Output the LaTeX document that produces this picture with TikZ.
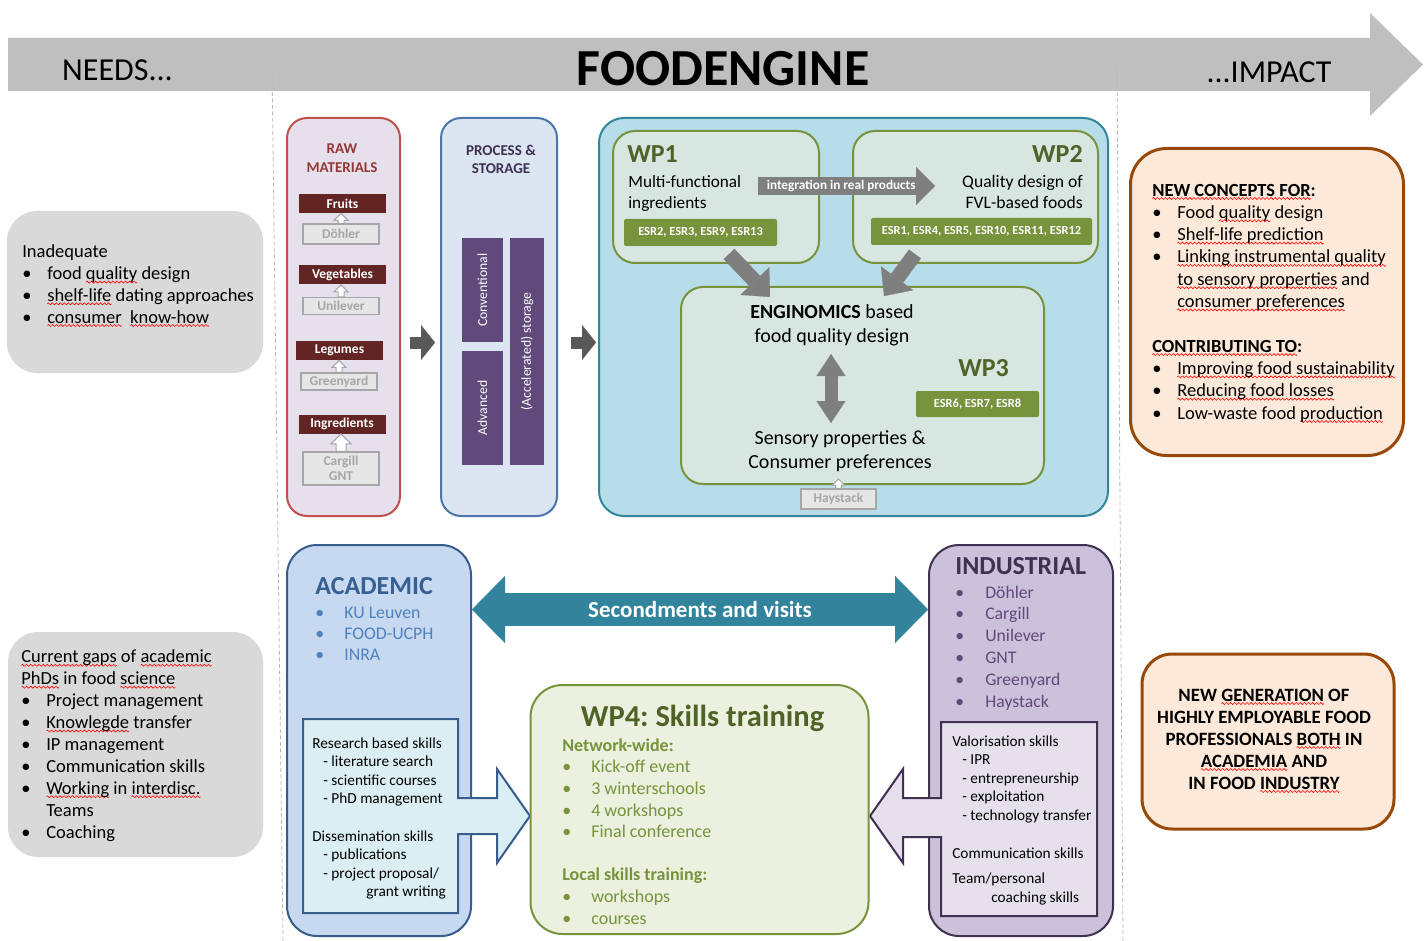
\documentclass[tikz,border=0pt]{standalone}
\usepackage{fontspec}
\setmainfont{Carlito}
\usetikzlibrary{arrows.meta,calc,positioning}

\definecolor{bannergray}{HTML}{BFBFBF}
\definecolor{needgray}{HTML}{D9D9D9}
\definecolor{rawfill}{HTML}{E6E0EC}
\definecolor{rawline}{HTML}{C0504D}
\definecolor{rawtitle}{HTML}{953735}
\definecolor{rawdark}{HTML}{632523}
\definecolor{supfill}{HTML}{E6E6E6}
\definecolor{supline}{HTML}{A6A6A6}
\definecolor{procfill}{HTML}{DCE6F2}
\definecolor{procline}{HTML}{4A76AC}
\definecolor{proctitle}{HTML}{3F3151}
\definecolor{barpurple}{HTML}{604A7B}
\definecolor{wpfill}{HTML}{B7DEE8}
\definecolor{wpline}{HTML}{31859C}
\definecolor{wpsubfill}{HTML}{D7E6E1}
\definecolor{wpgreen}{HTML}{77933C}
\definecolor{wptitle}{HTML}{4F6228}
\definecolor{arrgray}{HTML}{7F7F7F}
\definecolor{arrdark}{HTML}{595959}
\definecolor{impfill}{HTML}{FDE9D9}
\definecolor{impline}{HTML}{984807}
\definecolor{acadfill}{HTML}{C6D9F1}
\definecolor{acadline}{HTML}{385D8A}
\definecolor{acadtitle}{HTML}{376092}
\definecolor{acadlist}{HTML}{4F81BD}
\definecolor{acadcallfill}{HTML}{DBEEF4}
\definecolor{indufill}{HTML}{CCC1DA}
\definecolor{induline}{HTML}{3F3151}
\definecolor{indulist}{HTML}{5F497A}
\definecolor{inducallfill}{HTML}{E5E0EC}
\definecolor{wpfourfill}{HTML}{EBF1DE}
\definecolor{secteal}{HTML}{31849B}

\frenchspacing
\newcommand\fs[2]{\fontsize{#1}{#2}\selectfont}
% red spell-check waves
\newsavebox\wavebox
\newsavebox\sqbox
\newcommand\makewave{\sbox\wavebox{\begin{pgfpicture}%
  \pgfpathrectangle{\pgfpoint{0pt}{-1pt}}{\pgfpoint{4pt}{2pt}}\pgfusepath{use as bounding box}%
  \pgfsetstrokecolor{red}\pgfsetlinewidth{0.6pt}%
  \pgfpathmoveto{\pgfpoint{0pt}{0pt}}\pgfpathsine{\pgfpoint{1pt}{1pt}}\pgfpathcosine{\pgfpoint{1pt}{-1pt}}%
  \pgfpathsine{\pgfpoint{1pt}{-1pt}}\pgfpathcosine{\pgfpoint{1pt}{1pt}}\pgfusepath{stroke}%
  \end{pgfpicture}}}
\newcommand\sq[1]{\sbox\sqbox{#1}\rlap{\raisebox{-3.5pt}[0pt][0pt]{\hbox to \wd\sqbox{\xleaders\copy\wavebox\hfill}}}\usebox\sqbox}
\newcommand\bl[1]{\makebox[#1][l]{\textbullet}}
% small outlined supplier arrows: from, to, shaft half width, head half width
\newcommand\feedarrow[4]{%
  \draw[feed] let \p1=#1, \p2=#2 in
    (\x1-#3pt,\y1) -- (\x1-#3pt,\y2-#4pt) -- (\x1-#4pt,\y2-#4pt) -- (\x1,\y2)
    -- (\x1+#4pt,\y2-#4pt) -- (\x1+#3pt,\y2-#4pt) -- (\x1+#3pt,\y1) -- cycle;}

\begin{document}
\begin{tikzpicture}[x=1pt,y=-1pt,
  txt/.style={inner sep=0pt},
  needbox/.style={fill=needgray, rounded corners=30pt, inner sep=0pt},
  rawbox/.style={fill=rawfill, draw=rawline, line width=2pt, rounded corners=20pt},
  procbox/.style={fill=procfill, draw=procline, line width=2pt, rounded corners=20pt},
  wpbox/.style={fill=wpfill, draw=wpline, line width=2pt, rounded corners=25pt},
  wpsub/.style={fill=wpsubfill, draw=wpgreen, line width=2pt, rounded corners=22pt},
  impactbox/.style={fill=impfill, draw=impline, line width=3pt, rounded corners=36pt},
  acadbox/.style={fill=acadfill, draw=acadline, line width=2pt, rounded corners=30pt},
  indubox/.style={fill=indufill, draw=induline, line width=2pt, rounded corners=30pt},
  wpfourbox/.style={fill=wpfourfill, draw=wpgreen, line width=2pt, rounded corners=32pt},
  rawcat/.style={fill=rawdark, text=white, font=\bfseries\fs{13.5}{15}, minimum width=87pt, minimum height=19pt, inner sep=0pt},
  supplier/.style={fill=supfill, draw=supline, line width=1.3pt, text=supline, font=\bfseries\fs{13.5}{15}, minimum width=76pt, inner sep=0pt, align=center},
  feed/.style={fill=white, draw=supline, line width=1pt, line join=miter},
  storebar/.style={fill=barpurple, text=white, rotate=90, inner sep=0pt, font=\fs{13.7}{15}},
  esr/.style={fill=wpgreen, text=white, font=\bfseries\fs{12.4}{14}, rounded corners=2pt, inner sep=0pt},
  wplabel/.style={txt, font=\bfseries\fs{26}{30}, text=wptitle},
  blockarr/.style={draw=arrdark, line width=12pt, -{Triangle[width=35pt,length=14pt,line width=0.1pt]}},
  grayarr/.style={draw=arrgray, line width=15pt, -{Triangle[width=40pt,length=22pt,line width=0.1pt]}},
  intarr/.style={draw=arrgray, line width=18pt, -{Triangle[width=38pt,length=19pt,line width=0.1pt]}},
  dblarr/.style={draw=arrgray, line width=13pt, {Triangle[width=29pt,length=22pt,line width=0.1pt]}-{Triangle[width=29pt,length=22pt,line width=0.1pt]}},
  secarr/.style={draw=secteal, line width=33pt, {Triangle[width=67pt,length=33pt,line width=0.1pt]}-{Triangle[width=67pt,length=33pt,line width=0.1pt]}},
  acadcall/.style={fill=acadcallfill, draw=acadline, line width=2pt},
  inducall/.style={fill=inducallfill, draw=induline, line width=2pt},
  sep/.style={draw=gray!55, line width=0.8pt, dash pattern=on 4pt off 2.5pt}]
\makewave
\useasboundingbox (0,0) rectangle (1426,940);

% banner
\fill[bannergray] (8,37) -- (1370,37) -- (1370,12) -- (1423,63.5) -- (1370,115) -- (1370,90) -- (8,90) -- cycle;
\node[txt, anchor=base, font=\fs{32}{38}] (needs) at (117.5,80) {NEEDS...};
\node[txt, anchor=base, font=\bfseries\fs{52}{60}] (title) at (723,85) {FOODENGINE};
\node[txt, anchor=base, font=\fs{32}{38}] (impact) at (1269,82) {...IMPACT};
\draw[sep] (272,65) -- (283,940);
\draw[sep] (1117,65) -- (1123,940);

% needs (multi-line texts are placed by the baseline of their last line)
\node[needbox, minimum width=256pt, minimum height=162pt] (need1) at (135,291) {};
\node[txt, anchor=base west, align=left, font=\fs{18.5}{21.7}] (need1txt) at (22,322)
  {Inadequate\\ \bl{25pt}food \sq{quality} design\\ \bl{25pt}\sq{shelf-life} dating approaches\\ \bl{25pt}\sq{consumer}\ \ \sq{know-how}};
\node[needbox, minimum width=255pt, minimum height=225pt] (need2) at (135.5,743.5) {};
\node[txt, anchor=base west, align=left, font=\fs{18.5}{21.9}] (need2txt) at (21,837)
  {\sq{Current gaps} of \sq{academic}\\ \sq{PhDs} in food \sq{science}\\ \bl{25pt}Project management\\ \bl{25pt}\sq{Knowlegde} transfer\\
   \bl{25pt}IP management\\ \bl{25pt}Communication skills\\ \bl{25pt}\sq{Working} in \sq{interdisc.}\\ \hspace*{25pt}Teams\\ \bl{25pt}Coaching};

% raw materials
\node[rawbox, minimum width=113pt, minimum height=398pt] (raw) at (343.5,316) {};
\node[txt, anchor=base, align=center, font=\bfseries\fs{15}{19}, text=rawtitle] (rawlbl) at (342,172) {RAW\\MATERIALS};
\node[rawcat] (fruits) at (342.5,202.5) {Fruits};
\node[rawcat] (veg) at (342.5,274) {Vegetables};
\node[rawcat] (legumes) at (339.5,349.5) {Legumes};
\node[rawcat] (ingr) at (342,423) {Ingredients};
\node[supplier, minimum height=20pt] (dohler) at (341,233) {Döhler};
\node[supplier, minimum height=17pt] (unilever) at (341,305) {Unilever};
\node[supplier, minimum height=17pt] (greenyard) at (339,380.5) {Greenyard};
\node[supplier, minimum height=33pt] (cargill) at (341,467.5) {Cargill\\GNT};
\feedarrow{(dohler.north)}{(fruits.south)}{3}{7}
\feedarrow{(unilever.north)}{(veg.south)}{3}{7}
\feedarrow{(greenyard.north)}{(legumes.south)}{3}{7}
\feedarrow{(cargill.north)}{(ingr.south)}{5}{10}

% process and storage
\node[procbox, minimum width=116pt, minimum height=398pt] (proc) at (499,316) {};
\node[txt, anchor=base, align=center, font=\bfseries\fs{15}{18}, text=proctitle] (proclbl) at (501,173) {PROCESS \&\\STORAGE};
\node[storebar, minimum width=104pt, minimum height=41pt] (conv) at (482.5,289) {Conventional};
\node[storebar, minimum width=114pt, minimum height=41pt] (adv) at (482.5,407) {Advanced};
\node[storebar, minimum width=227pt, minimum height=34pt] (stor) at (527,350.5) {(Accelerated) storage};
\draw[blockarr] ($(raw.east)+(9,25.5)$) -- ($(proc.west)+(-5,25.5)$);

% work packages 1-3
\node[wpbox, minimum width=509pt, minimum height=398pt] (wp) at (853.5,316) {};
\draw[blockarr] ($(proc.east)+(13,25.5)$) -- ($(wp.west)+(-2,25.5)$);
\node[wpsub, minimum width=206pt, minimum height=132pt] (wp1) at (716,196) {};
\node[wpsub, minimum width=245pt, minimum height=132pt] (wp2) at (975.5,196) {};
\node[wpsub, minimum width=363pt, minimum height=197pt] (wp3) at (862.5,384.5) {};
\node[wplabel, anchor=base west] (wp1lbl) at (627,162) {WP1};
\node[txt, anchor=base west, align=left, font=\fs{17.2}{21}] (wp1txt) at (628,208) {Multi-functional\\ingredients};
\node[esr, minimum width=153pt, minimum height=27pt] (esr1) at (700.5,231.5) {ESR2, ESR3, ESR9, ESR13};
\node[wplabel, anchor=base east] (wp2lbl) at (1083,162) {WP2};
\node[txt, anchor=base east, align=right, font=\fs{17.6}{21}] (wp2txt) at (1083,208) {Quality design of\\FVL-based foods};
\node[esr, minimum width=221pt, minimum height=27pt] (esr2) at (981.5,230.5) {ESR1, ESR4, ESR5, ESR10, ESR11, ESR12};
\draw[intarr] ($(wp1.east)+(-62,-11)$) -- ($(wp2.west)+(83,-11)$)
  node[pos=0.47, text=white, font=\bfseries\fs{13.2}{15}] (inttxt) {integration in real products};
\draw[grayarr] ($(wp1.south)+(13,-10)$) -- ($(wp3.north)+(-92.5,11)$);
\draw[grayarr] ($(wp2.south)+(-60.5,-10)$) -- ($(wp3.north)+(21.5,10)$);
\node[txt, anchor=base, align=center, font=\fs{20}{24}] (engi) at (832,341) {\textbf{ENGINOMICS} based\\food quality design};
\node[txt, anchor=base, align=center, font=\fs{20}{24}] (sens) at (840,467) {Sensory properties \&\\Consumer preferences};
\draw[dblarr] ($(wp3.center)+(-31.5,-31.5)$) -- ($(wp3.center)+(-31.5,37.5)$);
\node[wplabel, anchor=base west] (wp3lbl) at (958,375) {WP3};
\node[esr, minimum width=123pt, minimum height=26pt] (esr3) at (977.5,403) {ESR6, ESR7, ESR8};
\node[supplier, minimum width=75pt, minimum height=20pt] (hay) at (838.5,498) {Haystack};
\feedarrow{(hay.north)}{([yshift=6pt]wp3.south)}{3}{6}

% impact
\node[impactbox, minimum width=273pt, minimum height=307pt] (imp1) at (1267,301) {};
\node[txt, anchor=base west, align=left, font=\fs{18.5}{22.3}] (imp1txt) at (1152,418)
  {\textbf{\sq{NEW CONCEPTS FOR}:}\\ \bl{25pt}Food \sq{quality} design\\ \bl{25pt}\sq{Shelf-life prediction}\\
   \bl{25pt}\sq{Linking instrumental quality}\\ \hspace*{25pt}\sq{to sensory properties} and\\ \hspace*{25pt}\sq{consumer preferences}\\[22.3pt]
   \textbf{\sq{CONTRIBUTING TO}:}\\ \bl{25pt}\sq{Improving food sustainability}\\ \bl{25pt}\sq{Reducing food losses}\\ \bl{25pt}Low-waste food \sq{production}};
\node[impactbox, rounded corners=30pt, minimum width=252pt, minimum height=175pt] (imp2) at (1268,740.5) {};
\node[txt, anchor=base, align=center, font=\bfseries\fs{18.8}{22}] (imp2txt) at (1264,788)
  {NEW \sq{GENERATION} OF\\HIGHLY EMPLOYABLE FOOD\\PROFESSIONALS \sq{BOTH} IN\\\sq{ACADEMIA} AND\\IN FOOD \sq{INDUSTRY}};

% academic
\node[acadbox, minimum width=184pt, minimum height=391pt] (acad) at (379,739.5) {};
\node[txt, anchor=base west, font=\bfseries\fs{26}{30}, text=acadtitle] (acadlbl) at (315,593) {ACADEMIC};
\node[txt, anchor=base west, align=left, font=\fs{17.8}{21}, text=acadlist] (acadlist) at (315,659)
  {\bl{29pt}KU Leuven\\ \bl{29pt}FOOD-UCPH\\ \bl{29pt}INRA};
\draw[acadcall] (303,718) -- (458,718) -- (458,797) -- (497,797) -- (497,768) -- (530,815)
  -- (497,862) -- (497,833) -- (458,833) -- (458,912) -- (303,912) -- cycle;
\node[txt, anchor=base west, align=left, font=\fs{15.3}{18.5}] (research) at (312,802.5)
  {Research based skills\\ \hspace*{11pt}- literature search\\ \hspace*{11pt}- scientific courses\\ \hspace*{11pt}- PhD management};
\node[txt, anchor=base west, align=left, font=\fs{15.3}{18.5}] (dissem) at (312,895.5)
  {Dissemination skills\\ \hspace*{11pt}- publications\\ \hspace*{11pt}- project proposal/\\ \hspace*{54pt}grant writing};

% industrial
\node[indubox, minimum width=184pt, minimum height=391pt] (indu) at (1021,739.5) {};
\node[txt, anchor=base west, font=\bfseries\fs{26}{30}, text=induline] (indulbl) at (955,573) {INDUSTRIAL};
\node[txt, anchor=base west, align=left, font=\fs{17.7}{21.8}, text=indulist] (indulist) at (955,706)
  {\bl{30pt}Döhler\\ \bl{30pt}Cargill\\ \bl{30pt}Unilever\\ \bl{30pt}GNT\\ \bl{30pt}Greenyard\\ \bl{30pt}Haystack};
\draw[inducall] (941,721) -- (1097,721) -- (1097,915) -- (941,915) -- (941,836) -- (903,836) -- (903,862)
  -- (870,815) -- (903,768) -- (903,797) -- (941,797) -- cycle;
\node[txt, anchor=base west, align=left, font=\fs{15.3}{18.6}] (valor) at (952,819.5)
  {Valorisation skills\\ \hspace*{10pt}- IPR\\ \hspace*{10pt}- entrepreneurship\\ \hspace*{10pt}- exploitation\\ \hspace*{10pt}- technology transfer};
\node[txt, anchor=base west, font=\fs{15.3}{18.6}] (commsk) at (952,857) {Communication skills};
\node[txt, anchor=base west, align=left, font=\fs{15.3}{18.6}] (teamsk) at (952,901.5) {Team/personal\\ \hspace*{39pt}coaching skills};

% secondments
\coordinate (sv) at (700,608.5);
\draw[secarr] (acad.east |- sv) -- (indu.west |- sv)
  node[midway, text=white, font=\bfseries\fs{23}{26}] (svtxt) {Secondments and visits};

% WP4
\node[wpfourbox, minimum width=338pt, minimum height=249pt] (wp4) at (699.5,808.5) {};
\node[txt, anchor=base, font=\bfseries\fs{30.5}{34}, text=wptitle] (wp4lbl) at (702.5,725) {WP4: Skills training};
\node[txt, anchor=base west, align=left, font=\fs{18}{21.6}, text=wpgreen] (wp4list) at (562,923)
  {\textbf{Network-wide:}\\ \bl{29pt}Kick-off event\\ \bl{29pt}3 winterschools\\ \bl{29pt}4 workshops\\ \bl{29pt}Final conference\\[21.6pt]
   \textbf{Local skills training:}\\ \bl{29pt}workshops\\ \bl{29pt}courses};
\end{tikzpicture}
\end{document}
